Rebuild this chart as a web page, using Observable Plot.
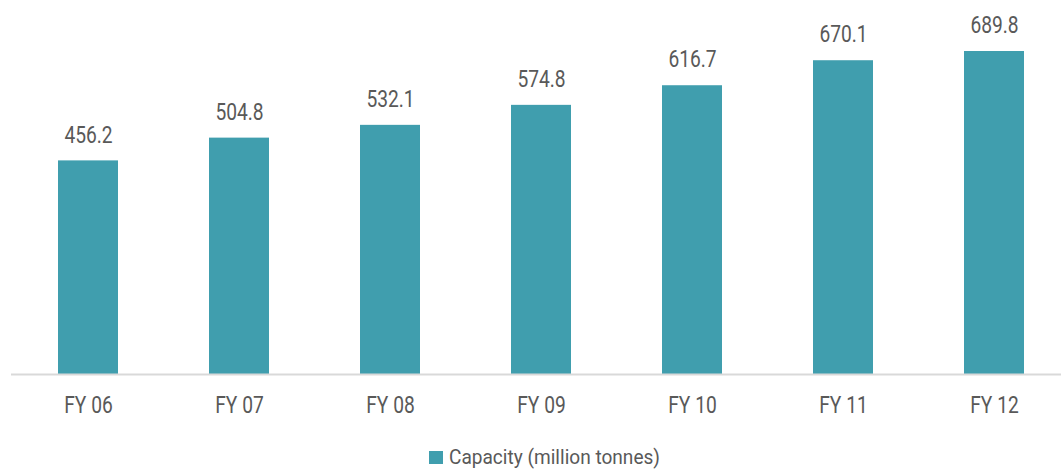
<!DOCTYPE html>
<html>
<head>
<meta charset="utf-8">
<script src="https://cdn.jsdelivr.net/npm/d3@7"></script>
<script src="https://cdn.jsdelivr.net/npm/@observablehq/plot@0.6"></script>
<style>
  html, body { margin: 0; padding: 0; background: #fff; }
  #chart { width: 1061px; height: 470px; position: relative; font-family: Roboto, sans-serif; }
  #legend { position: absolute; left: 429px; top: 445px; display: flex; align-items: center; color: #595959; font-size: 21px; white-space: nowrap; }
  #legend .sw { width: 14px; height: 13px; background: #409EAE; margin-right: 6px; flex: none; }
  #legend span { display: inline-block; transform-origin: left center; }
</style>
</head>
<body>
<div id="chart"></div>
<script>
const years = ["FY 06", "FY 07", "FY 08", "FY 09", "FY 10", "FY 11", "FY 12"];
const capacity = [456.2, 504.8, 532.1, 574.8, 616.7, 670.1, 689.8];
const seriesName = "Capacity (million tonnes)";

const data = years.map((y, i) => ({year: y, value: capacity[i]}));
const font = 'Roboto, sans-serif';

const plot = Plot.plot({
  width: 1061,
  height: 440,
  marginLeft: 11,
  marginRight: 0,
  marginTop: 0,
  marginBottom: 0,
  style: {fontFamily: font, background: "#fff"},
  x: {domain: years, range: [10.9, 1071], paddingInner: 0.6, paddingOuter: 0.3, axis: null},
  y: {domain: [0, d3.max(capacity)], range: [374, 51], axis: null},
  marks: [
    Plot.barY(data, {x: "year", y: "value", fill: "#409EAE"}),
    Plot.ruleY([0], {stroke: "#d9d9d9", strokeWidth: 2}),
    Plot.text(data, {x: "year", y: "value", text: d => d.value.toFixed(1), dy: -26, fontSize: 24, fill: "#595959"}),
    Plot.text(data, {x: "year", y: () => 0, text: "year", dy: 31, fontSize: 24, fill: "#595959"})
  ]
});
const chart = document.getElementById("chart");
chart.appendChild(plot);

// condense text to mimic a narrow typeface
const condense = 0.8;
plot.querySelectorAll("text").forEach(t => {
  const len = t.getComputedTextLength();
  t.setAttribute("textLength", (len * condense).toFixed(1));
  t.setAttribute("lengthAdjust", "spacingAndGlyphs");
});

const legend = document.createElement("div");
legend.id = "legend";
legend.innerHTML = `<div class="sw"></div><span>${seriesName}</span>`;
chart.appendChild(legend);
const span = legend.querySelector("span");
const w = span.getBoundingClientRect().width;
span.style.transform = `scaleX(${211 / w})`;
</script>
</body>
</html>
